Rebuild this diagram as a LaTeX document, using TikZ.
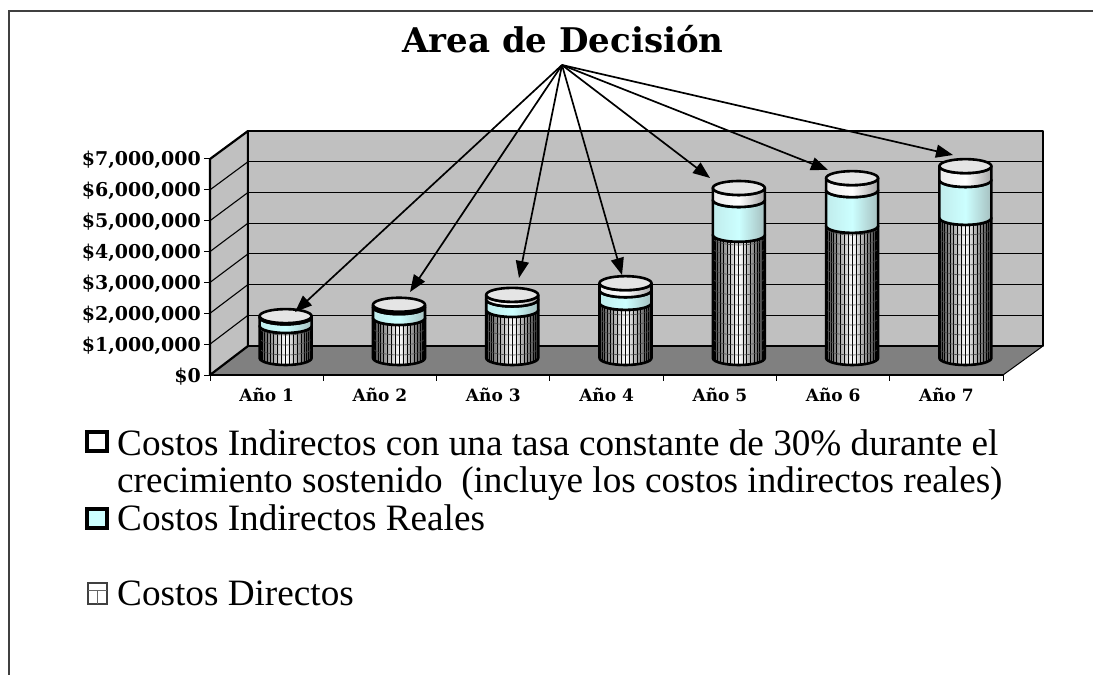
\documentclass[tikz,border=0pt]{standalone}
\usepackage{fontspec}
\setmainfont{Liberation Serif}
\newfontfamily\chartfont{DejaVu Serif}
\usepackage{tikz}
\usetikzlibrary{arrows.meta}

\definecolor{wallgray}{HTML}{C0C0C0}
\definecolor{floorgray}{HTML}{808080}
\definecolor{realcyan}{HTML}{CCFFFF}
\definecolor{framegray}{HTML}{404040}

\tikzset{
  wall/.style={fill=wallgray, draw=black, line width=2.2pt, line join=round},
  gridline/.style={black, line width=1.1pt},
  pointer/.style={-{Triangle[length=17pt,width=13pt]}, line width=1.7pt},
  axislabel/.style={font=\chartfont\bfseries\fontsize{17}{17}\selectfont, inner sep=0pt},
  valuelabel/.style={font=\chartfont\bfseries\fontsize{19}{19}\selectfont, inner sep=0pt, anchor=base east},
  legendtext/.style={font=\fontsize{37.2}{38}\selectfont, inner sep=0pt, anchor=base west},
  cylline/.style={draw=black, line width=2.6pt, line join=round},
  hatchline/.style={black, line width=0.7pt},
}

\begin{document}
\begin{tikzpicture}[x=1pt, y=-1pt]

    \useasboundingbox (0,0) rectangle (1093,675);

    % frame
    \draw[framegray, line width=2pt] (9,675) -- (9,11) -- (1093,11);

    % title
    \node[font=\chartfont\bfseries\fontsize{34}{34}\selectfont, inner sep=0pt, anchor=base] (title) at (563,52) {Area de Decisión};

    % walls and floor
    \fill[floorgray] (210,375) -- (248,346) -- (1043,346) -- (1003,375) -- cycle;
    \draw[line width=1pt] (1003,375) -- (1043,346);
    \draw[wall] (210,375) -- (210,159) -- (248,131) -- (248,346) -- cycle;
    \draw[wall] (248,131) rectangle (1043,346);
    \foreach \k in {1,...,6} {
        \draw[gridline] (248,346-30.71*\k) -- (1043,346-30.71*\k);
        \draw[gridline] (210,375-30.86*\k) -- (248,346-30.71*\k);
    }
    \draw[line width=2.2pt] (210,375) -- (1003,375);

    % value axis
    \foreach \k/\val in {0/{\$0},1/{\$1,000,000},2/{\$2,000,000},3/{\$3,000,000},4/{\$4,000,000},5/{\$5,000,000},6/{\$6,000,000},7/{\$7,000,000}} {
        \draw[line width=1pt] (204,375-30.86*\k) -- (210,375-30.86*\k);
        \node[valuelabel] (v\k) at (201,382-30.86*\k) {\val};
    }

    % category axis
    \foreach \k in {0,...,7}
        \draw[line width=1pt] (210+113.3*\k,375) -- (210+113.3*\k,381);
    \foreach \k in {1,...,7}
        \node[axislabel, anchor=base] (a\k) at (210+113.3*\k-56.6,401) {Año \k};

    % cylinders: center, directos, reales, tasa 30%
    \foreach \i/\cx/\vd/\vr/\vt in {1/285.6/1.04/1.32/1.36, 2/399/1.30/1.65/1.73,
        3/512.2/1.56/1.90/2.05, 4/625.5/1.79/2.20/2.43, 5/738.8/4.00/5.13/5.52,
        6/852.1/4.29/5.45/5.84, 7/965.4/4.55/5.78/6.23} {
        \pgfmathsetmacro{\yb}{358}
        \pgfmathsetmacro{\yd}{358-30.8*\vd}
        \pgfmathsetmacro{\yr}{358-30.8*\vr}
        \pgfmathsetmacro{\yt}{358-30.8*\vt}
        % directos
        \begin{scope}
            \clip (\cx-26,\yd) -- (\cx-26,\yb) arc[start angle=180,end angle=0,x radius=26,y radius=7]
                -- (\cx+26,\yd) arc[start angle=0,end angle=180,x radius=26,y radius=7] -- cycle;
            \fill[left color=black!75, right color=black!85, middle color=white] (\cx-27,\yd-10) rectangle (\cx+27,\yb+10);
            \foreach \a in {9,18,...,171}
                \draw[hatchline] ({\cx+26*cos(\a)},\yb+8) -- ({\cx+26*cos(\a)},\yd-8);
            \foreach \h in {1,...,30}
                \draw[hatchline, black!70, line width=0.6pt] (\cx-26,\yb-10*\h) arc[start angle=180,end angle=0,x radius=26,y radius=7];
        \end{scope}
        \draw[cylline] (\cx-26,\yd) -- (\cx-26,\yb) arc[start angle=180,end angle=0,x radius=26,y radius=7]
            -- (\cx+26,\yd) arc[start angle=0,end angle=180,x radius=26,y radius=7] -- cycle;
        % reales
        \draw[cylline, left color=realcyan!85!gray, right color=realcyan!50!gray, middle color=realcyan]
            (\cx-26,\yr) -- (\cx-26,\yd) arc[start angle=180,end angle=0,x radius=26,y radius=7]
            -- (\cx+26,\yr) arc[start angle=0,end angle=180,x radius=26,y radius=7] -- cycle;
        % tasa constante
        \draw[cylline, left color=white!85!gray, right color=gray!70, middle color=white]
            (\cx-26,\yt) -- (\cx-26,\yr) arc[start angle=180,end angle=0,x radius=26,y radius=7]
            -- (\cx+26,\yt) arc[start angle=0,end angle=180,x radius=26,y radius=7] -- cycle;
        % lid
        \draw[cylline, fill=gray!20] (\cx,\yt) ellipse [x radius=26, y radius=7];
    }

    % arrows
    \coordinate (src) at (562,65);
    \foreach \i/\tx/\ty in {1/295/312, 2/410/292, 3/519/278, 4/622/275, 5/710/178, 6/828/170, 7/953/155} {
        \coordinate (tip\i) at (\tx,\ty);
        \draw[pointer] (src) -- (tip\i);
    }

    % legend
    \draw[line width=3.5pt, fill=white] (87,432) rectangle (107,451);
    \node[legendtext] (l1) at (117,455) {Costos Indirectos con una tasa constante de 30\% durante el};
    \node[legendtext] (l2) at (117,492) {crecimiento sostenido\ \ (incluye los costos indirectos reales)};
    \draw[line width=3.5pt, fill=realcyan] (87,509) rectangle (107,528);
    \node[legendtext] (l3) at (117,530) {Costos Indirectos Reales};
    \draw[black!75, line width=1.6pt, fill=white] (88,583) rectangle (107,604);
    \draw[black!60, line width=1pt] (88,590) -- (107,590) (97.5,590) -- (97.5,604);
    \node[legendtext] (l4) at (117,605) {Costos Directos};

\end{tikzpicture}
\end{document}
